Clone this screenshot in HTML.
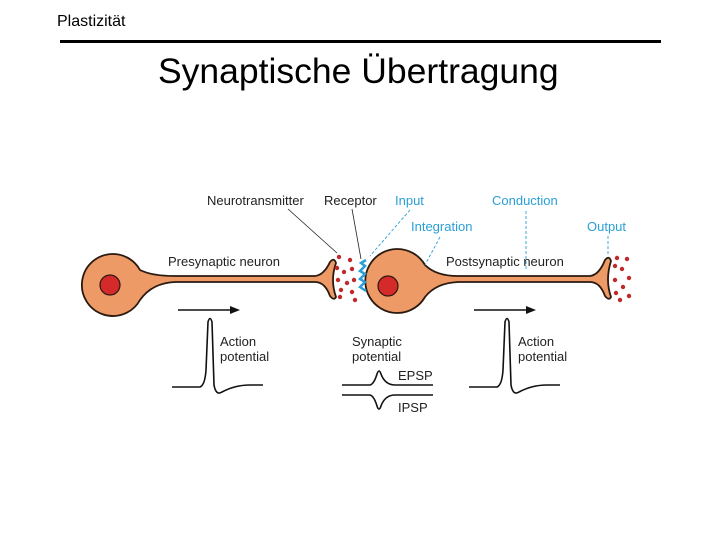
<!DOCTYPE html>
<html><head><meta charset="utf-8"><style>
body{margin:0;background:#fff;width:720px;height:540px;overflow:hidden;font-family:"Liberation Sans",sans-serif}
</style></head><body>
<svg width="720" height="540" viewBox="0 0 720 540" xmlns="http://www.w3.org/2000/svg" font-family="Liberation Sans, sans-serif">
<text x="57" y="26" font-size="16">Plastizität</text>
<rect x="60" y="40" width="601" height="3" fill="#000"/>
<text x="158" y="83" font-size="35.5">Synaptische Übertragung</text>

<g stroke="#2a1a10" stroke-width="1.8" fill="#ee9a66">
<path d="M113,254 A31,31 0 1 0 140,300 Q152,283 175,282 L315,282 Q325,282 330,296 Q334,301 336,297 Q330,280 336,263 Q334,257 330,262 Q324,275 315,276 L175,276 Q152,276 140,270 A31,31 0 0 0 113,254 Z"/>
<path d="M397,249 A32,32 0 1 0 425,297 Q436,283 458,282 L590,282 Q600,282 605,296 Q609,301 611,297 Q605,280 611,261 Q609,255 605,260 Q599,275 590,276 L458,276 Q436,276 425,265 A32,32 0 0 0 397,249 Z"/>
</g>
<circle cx="110" cy="285" r="10" fill="#d42a2a" stroke="#2a1a10" stroke-width="1.2"/>
<circle cx="388" cy="286" r="10" fill="#d42a2a" stroke="#2a1a10" stroke-width="1.2"/>
<g fill="#c0282a">
<circle cx="339" cy="257" r="2.2"/><circle cx="350" cy="260" r="2.2"/><circle cx="337" cy="268" r="2.2"/><circle cx="344" cy="272" r="2.2"/><circle cx="352" cy="269" r="2.2"/><circle cx="338" cy="280" r="2.2"/><circle cx="347" cy="283" r="2.2"/><circle cx="341" cy="290" r="2.2"/><circle cx="352" cy="292" r="2.2"/><circle cx="340" cy="297" r="2.2"/><circle cx="355" cy="300" r="2.2"/><circle cx="354" cy="280" r="2.2"/>
<circle cx="617" cy="258" r="2.2"/><circle cx="627" cy="259" r="2.2"/><circle cx="615" cy="266" r="2.2"/><circle cx="622" cy="269" r="2.2"/><circle cx="629" cy="278" r="2.2"/><circle cx="615" cy="280" r="2.2"/><circle cx="623" cy="287" r="2.2"/><circle cx="616" cy="293" r="2.2"/><circle cx="629" cy="296" r="2.2"/><circle cx="620" cy="300" r="2.2"/>
</g>
<path d="M366,260 L361,263 L365,266 L360,271 L365,274 L360,279 L365,282 L360,287 L366,291" stroke="#2a9fd6" stroke-width="2.5" fill="none"/>

<g font-size="13" fill="#222">
<text x="207" y="205">Neurotransmitter</text>
<text x="324" y="205">Receptor</text>
<text x="168" y="266">Presynaptic neuron</text>
<text x="446" y="266">Postsynaptic neuron</text>
<text x="220" y="346">Action</text><text x="220" y="361">potential</text>
<text x="518" y="346">Action</text><text x="518" y="361">potential</text>
<text x="352" y="346">Synaptic</text><text x="352" y="361">potential</text>
<text x="398" y="380">EPSP</text><text x="398" y="412">IPSP</text>
</g>
<g font-size="13" fill="#2a9fd6">
<text x="395" y="205">Input</text>
<text x="492" y="205">Conduction</text>
<text x="411" y="231">Integration</text>
<text x="587" y="231">Output</text>
</g>
<g stroke="#222" stroke-width="0.8">
<line x1="288" y1="209" x2="337" y2="253"/>
<line x1="352" y1="209" x2="361" y2="259"/>
</g>
<g stroke="#2a9fd6" stroke-width="0.9" stroke-dasharray="3,2">
<line x1="410" y1="210" x2="370" y2="256"/>
<line x1="440" y1="237" x2="425" y2="265"/>
<line x1="526" y1="211" x2="526" y2="270"/>
<line x1="608" y1="236" x2="608" y2="256"/>
</g>
<g stroke="#111" stroke-width="1.6" fill="none">
<line x1="178" y1="310" x2="232" y2="310"/>
<line x1="474" y1="310" x2="528" y2="310"/>
<path d="M172,387 L200,387 Q205,385 206,370 L208,322 Q210,315 212,322 L214,385 Q216,396 222,392 Q235,385 250,385 L263,385"/>
<path d="M469,387 L497,387 Q502,385 503,370 L505,322 Q507,315 509,322 L511,385 Q513,396 519,392 Q532,385 547,385 L560,385"/>
<path d="M342,385 L370,385 Q374,384 377,374 Q379,368 381,374 Q385,385 395,385 L433,385"/>
<path d="M342,395 L370,395 Q374,396 377,406 Q379,412 381,406 Q385,395 395,395 L433,395"/>
</g>
<path d="M230,306 L240,310 L230,314 Z" fill="#111"/>
<path d="M526,306 L536,310 L526,314 Z" fill="#111"/>
</svg>
</body></html>
